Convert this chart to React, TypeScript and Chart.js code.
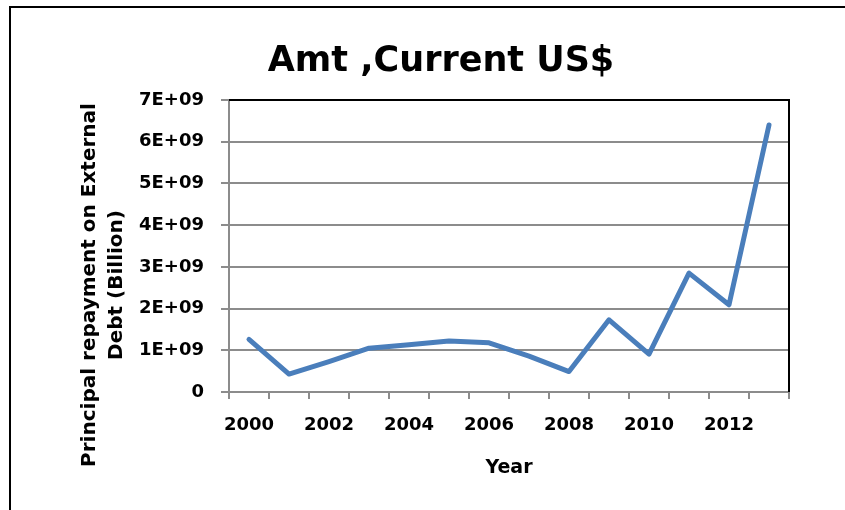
import React, { useEffect, useRef } from "react";
import { Chart, registerables } from "chart.js";

Chart.register(...registerables);

const TITLE = "Amt ,Current US$";
const X_TITLE = "Year";
const Y_TITLE_LINES = ["Principal repayment on External", "Debt (Billion)"];
const YEARS = ["2000", "2001", "2002", "2003", "2004", "2005", "2006", "2007", "2008", "2009", "2010", "2011", "2012", "2013"];
const REPAYMENT = [1.26e9, 0.43e9, 0.73e9, 1.05e9, 1.13e9, 1.22e9, 1.18e9, 0.86e9, 0.49e9, 1.73e9, 0.91e9, 2.85e9, 2.09e9, 6.4e9];
const Y_MIN = 0;
const Y_MAX = 7e9;
const Y_STEP = 1e9;

const FONT = "'DejaVu Sans', 'Liberation Sans', sans-serif";
const GRID = "#8c8c8c";

const framePlugin = {
  id: "frame",
  afterDraw(chart: any) {
    const { ctx, chartArea } = chart;
    ctx.save();
    ctx.strokeStyle = "#000";
    ctx.lineWidth = 2;
    ctx.beginPath();
    ctx.moveTo(chartArea.left, chartArea.top);
    ctx.lineTo(chartArea.right, chartArea.top);
    ctx.lineTo(chartArea.right, chartArea.bottom);
    ctx.stroke();
    ctx.beginPath();
    ctx.moveTo(10, 520);
    ctx.lineTo(10, 7);
    ctx.lineTo(860, 7);
    ctx.stroke();
    ctx.fillStyle = "#000";
    ctx.font = `bold 20px ${FONT}`;
    ctx.textAlign = "center";
    ctx.textBaseline = "middle";
    ctx.translate(90, 285);
    ctx.rotate(-Math.PI / 2);
    Y_TITLE_LINES.forEach((line, i) => {
      ctx.fillText(line, 0, i * 27);
    });
    ctx.restore();
  },
};

export default function App() {
  const ref = useRef<HTMLCanvasElement>(null);
  useEffect(() => {
    if (!ref.current) return;
    const chart = new Chart(ref.current, {
      type: "line",
      data: {
        labels: YEARS,
        datasets: [
          {
            label: "Amt",
            data: REPAYMENT,
            borderColor: "#4A7EBB",
            backgroundColor: "#4A7EBB",
            borderWidth: 5,
            pointRadius: 0,
            tension: 0,
            borderCapStyle: "round",
            borderJoinStyle: "round",
          },
        ],
      },
      options: {
        responsive: false,
        animation: false,
        layout: { padding: { left: 93, right: 56, top: 0, bottom: 0 } },
        plugins: {
          legend: { display: false },
          tooltip: { enabled: false },
          title: {
            display: true,
            text: TITLE,
            color: "#000",
            font: { family: FONT, size: 35, weight: "bold" },
            padding: { top: 41, bottom: 17 },
          },
        },
        scales: {
          x: {
            type: "category",
            offset: true,
            grid: {
              offset: true,
              drawOnChartArea: false,
              drawTicks: true,
              tickLength: 7,
              color: GRID,
              lineWidth: 2,
            },
            border: { display: true, color: GRID, width: 2 },
            ticks: {
              autoSkip: false,
              maxRotation: 0,
              color: "#000",
              padding: 16,
              font: { family: FONT, size: 18, weight: "bold" },
              callback: (_v: any, i: number) => (i % 2 === 0 ? YEARS[i] : ""),
            },
            title: {
              display: true,
              text: X_TITLE,
              color: "#000",
              font: { family: FONT, size: 19, weight: "bold" },
              padding: { top: 0, bottom: 31 },
            },
            afterFit: (s: any) => {
              s.height = 118;
            },
          },
          y: {
            min: Y_MIN,
            max: Y_MAX,
            grid: { color: GRID, lineWidth: 2, tickLength: 8, drawTicks: true },
            border: { display: true, color: GRID, width: 2 },
            ticks: {
              stepSize: Y_STEP,
              color: "#000",
              padding: 17,
              font: { family: FONT, size: 18, weight: "bold" },
              callback: (v: any) => (v === 0 ? "0" : `${Math.round(v / 1e9)}E+09`),
            },
            afterFit: (s: any) => {
              s.width = 136;
            },
          },
        },
      },
      plugins: [framePlugin],
    });
    return () => chart.destroy();
  }, []);
  return (
    <div style={{ position: "fixed", left: 0, top: 0, width: 845, height: 510, background: "#fff" }}>
      <canvas ref={ref} width={845} height={510} style={{ display: "block" }} />
    </div>
  );
}
